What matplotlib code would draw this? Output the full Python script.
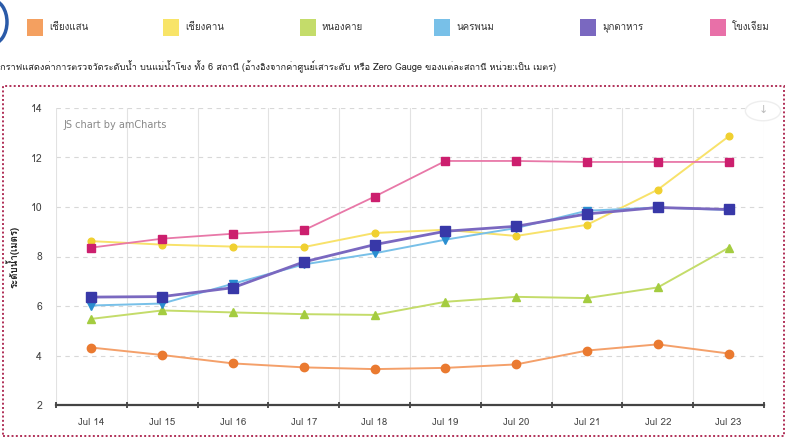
import matplotlib
matplotlib.use('Agg')
import matplotlib.pyplot as plt
import matplotlib.font_manager as fm
from matplotlib.patches import Rectangle, Circle, Arc

# ── หาฟอนต์ที่มีอักษรไทย ─────────────────────────────────────
def find_thai_font():
    try:
        from fontTools.ttLib import TTFont
    except Exception:
        return None
    for f in fm.fontManager.ttflist:
        try:
            tt = TTFont(f.fname, fontNumber=0, lazy=True)
            cmap = tt.getBestCmap()
            if cmap and 0x0E01 in cmap:
                return f.name
        except Exception:
            continue
    return None

THAI_FONT = find_thai_font()
families = ([THAI_FONT] if THAI_FONT else []) + ['DejaVu Sans']
plt.rcParams['font.family'] = families

# ── ข้อมูล ─────────────────────────────────────────────────────
dates = ['Jul 14', 'Jul 15', 'Jul 16', 'Jul 17', 'Jul 18',
         'Jul 19', 'Jul 20', 'Jul 21', 'Jul 22', 'Jul 23']
stations = ['เชียงแสน', 'เชียงคาน', 'หนองคาย', 'นครพนม', 'มุกดาหาร', 'โขงเจียม']

chiang_saen = [4.32, 4.02, 3.68, 3.52, 3.45, 3.5, 3.64, 4.2, 4.45, 4.08]
chiang_khan = [8.62, 8.48, 8.4, 8.38, 8.95, 9.08, 8.83, 9.28, 10.7, 12.85]
nong_khai   = [5.48, 5.82, 5.74, 5.67, 5.64, 6.17, 6.37, 6.32, 6.75, 8.35]
nakhon_phanom = [6.02, 6.1, 6.9, 7.68, 8.13, 8.68, 9.15, 9.85, 9.98, 9.88]
mukdahan    = [6.36, 6.38, 6.74, 7.78, 8.48, 9.02, 9.22, 9.72, 9.98, 9.9]
khong_chiam = [8.36, 8.72, 8.92, 9.06, 10.42, 11.86, 11.86, 11.82, 11.82, 11.82]

title_text = ('กราฟแสดงค่าการตรวจวัดระดับน้ำ บนแม่น้ำโขง ทั้ง 6 สถานี '
              '(อ้างอิงจากค่าศูนย์เสาระดับ หรือ Zero Gauge ของแต่ละสถานี หน่วย:เป็น เมตร)')
ylabel_text = 'ระดับน้ำ(เมตร)'

series = [chiang_saen, chiang_khan, nong_khai, nakhon_phanom, mukdahan, khong_chiam]
# (สีเส้น, สีจุด, marker, ขนาด, ความหนาเส้น, สีกล่อง legend)
styles = [
    ('#f4a06a', '#ea7a30', 'o', 6.0, 1.4, '#f4a060'),
    ('#f8e26a', '#f0d030', 'o', 4.8, 1.4, '#f8e468'),
    ('#c4dc6a', '#a4cc40', '^', 5.5, 1.4, '#c4dc6a'),
    ('#78c0e8', '#2a8ed0', 'v', 6.0, 1.4, '#78c0e8'),
    ('#7a68c0', '#3838a8', 's', 7.5, 2.0, '#7a68c0'),
    ('#e878a8', '#cc1f6e', 's', 5.5, 1.3, '#e870a8'),
]

# ── รูป ────────────────────────────────────────────────────────
W, H = 801, 444
fig = plt.figure(figsize=(W / 100, H / 100), dpi=100)
fig.patch.set_facecolor('white')

def fx(px):
    return px / W

def fy(py):
    return 1 - py / H

ax_left, ax_right, ax_top, ax_bottom = 56, 764, 108, 405
ax = fig.add_axes([fx(ax_left), fy(ax_bottom), fx(ax_right) - fx(ax_left), fy(ax_top) - fy(ax_bottom)])
ax.set_facecolor('white')

x = list(range(len(dates)))
for vals, (lc, mc, mk, ms, lw, _) in zip(series, styles):
    ax.plot(x, vals, color=lc, linewidth=lw, zorder=3)
    ax.plot(x, vals, linestyle='none', marker=mk, markersize=ms,
            markerfacecolor=mc, markeredgecolor=mc, zorder=4)

ax.set_xlim(-0.5, len(dates) - 0.5)
ax.set_ylim(2, 14)
ax.set_yticks([2, 4, 6, 8, 10, 12, 14])
ax.set_xticks(x)
ax.set_xticklabels(dates, fontsize=7, color='#444444')
ax.set_xticks([i - 0.5 for i in range(len(dates) + 1)], minor=True)
ax.tick_params(axis='x', which='major', length=0, pad=9)
ax.tick_params(axis='x', which='minor', length=4, width=1.2, color='#333333',
               direction='inout')
ax.tick_params(axis='y', length=0, labelsize=7.5, labelcolor='#444444', pad=10)

for v in [4, 6, 8, 10, 12, 14]:
    ax.axhline(v, color='#d8d8d8', linestyle=(0, (4, 4)), linewidth=0.8, zorder=1)
ax.grid(True, which='minor', axis='x', color='#e2e2e2', linewidth=0.8, zorder=1)

for s in ['top', 'right', 'left']:
    ax.spines[s].set_visible(False)
ax.spines['bottom'].set_color('#444444')
ax.spines['bottom'].set_linewidth(1.6)

ax.set_ylabel(ylabel_text, fontsize=7, fontweight='bold', color='#222222')
ax.yaxis.set_label_coords((20 - ax_left) / (ax_right - ax_left), 0.5)

ax.text(0.01, 0.96, 'JS chart by amCharts', transform=ax.transAxes,
        fontsize=7, color='#888888', va='top', ha='left', family='DejaVu Sans')

# ปุ่มดาวน์โหลด
fig.patches.append(Circle((fx(763), fy(111)), 0.022, transform=fig.transFigure,
                          facecolor='white', edgecolor='#eeeeee', linewidth=1.0, zorder=5))
fig.text(fx(763), fy(110), '↓', fontsize=8, color='#bbbbbb', ha='center', va='center',
         family='DejaVu Sans', zorder=6)

# กรอบจุดสีแดง
fig.patches.append(Rectangle((fx(3), fy(436)), fx(784) - fx(3), fy(86) - fy(436),
                             transform=fig.transFigure, fill=False,
                             edgecolor='#b03058', linewidth=1.4,
                             linestyle=(0, (1, 1.2)), zorder=2))

# legend
legend_x = [27, 163, 300, 434, 580, 710]
for px, name, st in zip(legend_x, stations, styles):
    fig.patches.append(Rectangle((fx(px), fy(36)), fx(16), fy(19) - fy(36),
                                 transform=fig.transFigure, facecolor=st[5],
                                 edgecolor='none'))
    fig.text(fx(px + 22), fy(27), name, fontsize=7, color='#333333',
             ha='left', va='center')

fig.text(fx(0), fy(67), title_text, fontsize=6.6, color='#222222',
         ha='left', va='center')

# วงสีน้ำเงินขอบซ้าย
fig.patches.append(Arc((fx(-8), fy(22)), fx(30), fy(0) - fy(44), theta1=-90, theta2=90,
                       transform=fig.transFigure, color='#2a5aa8', linewidth=2.5))

fig.savefig('out.png', dpi=100, facecolor='white')
